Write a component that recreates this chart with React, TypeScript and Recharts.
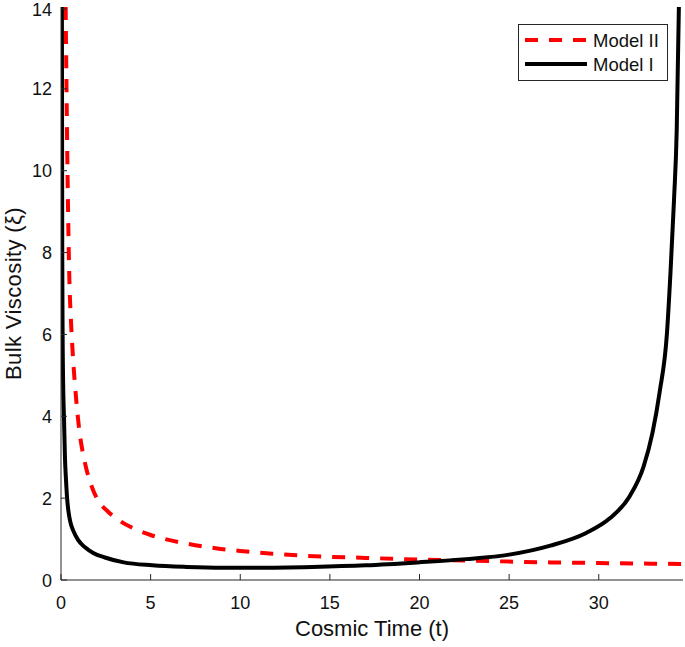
import React from 'react';
import { LineChart, Line, XAxis, YAxis } from 'recharts';

const modelIITime = [0.26, 0.3, 0.35, 0.41, 0.47, 0.56, 0.69, 0.85, 1.02, 1.2, 1.43, 1.7, 2.06, 2.6, 3.2, 4, 5, 6, 7, 8.9, 10, 11.8, 14.8, 17, 19.1, 23, 27.3, 31, 34.7];
const modelIIVisc = [14, 12.3, 10.4, 8.6, 7.3, 6.3, 5.3, 4.4, 3.66, 3.15, 2.69, 2.3, 1.95, 1.68, 1.47, 1.27, 1.1, 0.98, 0.89, 0.76, 0.71, 0.64, 0.57, 0.54, 0.51, 0.47, 0.43, 0.41, 0.39];

const modelITime = [0.05, 0.06, 0.07, 0.09, 0.12, 0.17, 0.22, 0.28, 0.34, 0.41, 0.52, 0.69, 0.95, 1.34, 1.8, 2.45, 3.5, 5.1, 7, 9, 11, 14, 17, 19.9, 22.6, 25, 27.3, 29.3, 30.6, 31.7, 32.5, 33.0, 33.4, 33.8, 34.0, 34.2, 34.35, 34.47];
const modelIVisc = [14, 11, 8, 6, 4.8, 3.9, 3.0, 2.44, 2.0, 1.7, 1.42, 1.2, 0.98, 0.8, 0.66, 0.55, 0.43, 0.36, 0.32, 0.3, 0.3, 0.32, 0.36, 0.43, 0.51, 0.62, 0.84, 1.15, 1.5, 2.03, 2.77, 3.6, 4.6, 6.0, 7.5, 9.3, 11, 14];

const xTicks = [0, 5, 10, 15, 20, 25, 30];
const yTicks = [0, 2, 4, 6, 8, 10, 12, 14];
const seriesNames = ['Model II', 'Model I'];
const xLabel = 'Cosmic Time (t)';
const yLabel = 'Bulk Viscosity (\u03BE)';

const modelIIData = modelIITime.map((t, i) => ({ t, v: modelIIVisc[i] }));
const modelIData = modelITime.map((t, i) => ({ t, v: modelIVisc[i] }));

const FONT = '"Liberation Sans", Arial, Helvetica, sans-serif';
const AXIS = '#262626';

const BottomTick = (props: any) => {
  const { x, y, payload } = props;
  return (
    <g>
      <line x1={x} x2={x} y1={y} y2={y - 6} stroke={AXIS} strokeWidth={1} />
      <text x={x} y={y + 29} textAnchor="middle" fontSize={18} fontFamily={FONT} fill="#111">
        {payload.value}
      </text>
    </g>
  );
};

const TopTick = (props: any) => {
  const { x, y } = props;
  return <line x1={x} x2={x} y1={y} y2={y + 6} stroke={AXIS} strokeWidth={1} />;
};

const LeftTick = (props: any) => {
  const { x, y, payload } = props;
  return (
    <g>
      <line x1={x} x2={x + 6} y1={y} y2={y} stroke={AXIS} strokeWidth={1} />
      <text x={x - 9} y={y + 6.5} textAnchor="end" fontSize={18} fontFamily={FONT} fill="#111">
        {payload.value}
      </text>
    </g>
  );
};

const RightTick = (props: any) => {
  const { x, y } = props;
  return <line x1={x} x2={x - 6} y1={y} y2={y} stroke={AXIS} strokeWidth={1} />;
};

const XLabel = (props: any) => {
  const vb = props.viewBox || {};
  return (
    <text x={vb.x + vb.width / 2} y={vb.y + 56} textAnchor="middle" fontSize={22} fontFamily={FONT} fill="#111">
      {xLabel}
    </text>
  );
};

const YLabel = (props: any) => {
  const vb = props.viewBox || {};
  const cx = 21;
  const cy = vb.y + vb.height / 2;
  return (
    <text x={cx} y={cy} textAnchor="middle" fontSize={22} fontFamily={FONT} fill="#111" letterSpacing={0.4} transform={`rotate(-90 ${cx} ${cy})`}>
      {yLabel}
    </text>
  );
};

const LegendBox = () => (
  <svg width={151} height={58} style={{ display: 'block' }}>
    <rect x={0.5} y={0.5} width={149} height={56} fill="#fff" stroke={AXIS} strokeWidth={1} />
    <line x1={7} x2={69} y1={16} y2={16} stroke="#ff0000" strokeWidth={4} strokeDasharray="13 11" />
    <text x={75} y={22.5} fontSize={18.5} fontFamily={FONT} fill="#111">{seriesNames[0]}</text>
    <line x1={7} x2={69} y1={40} y2={40} stroke="#000" strokeWidth={4} />
    <text x={75} y={46.5} fontSize={18.5} fontFamily={FONT} fill="#111">{seriesNames[1]}</text>
  </svg>
);

export default function App() {
  return (
    <div style={{ position: 'absolute', left: 0, top: 0, width: 685, height: 647, background: '#fff' }}>
      <LineChart width={685} height={647} margin={{ top: 7, right: 2, bottom: 0, left: 0 }}>
        <XAxis
          dataKey="t"
          type="number"
          domain={[0, 34.7]}
          ticks={xTicks}
          allowDataOverflow
          height={67}
          tickSize={0}
          tickMargin={0}
          tickLine={false}
          stroke={AXIS}
          tick={<BottomTick />}
          label={<XLabel />}
        />
        <XAxis
          xAxisId="top"
          orientation="top"
          dataKey="t"
          type="number"
          domain={[0, 34.7]}
          ticks={xTicks}
          allowDataOverflow
          height={0}
          tickSize={0}
          tickMargin={0}
          tickLine={false}
          stroke={AXIS}
          tick={<TopTick />}
        />
        <YAxis
          type="number"
          domain={[0, 14]}
          ticks={yTicks}
          allowDataOverflow
          width={61}
          tickSize={0}
          tickMargin={0}
          tickLine={false}
          stroke={AXIS}
          tick={<LeftTick />}
          label={<YLabel />}
        />
        <YAxis
          yAxisId="right"
          orientation="right"
          type="number"
          domain={[0, 14]}
          ticks={yTicks}
          allowDataOverflow
          width={0}
          tickSize={0}
          tickMargin={0}
          tickLine={false}
          stroke={AXIS}
          tick={<RightTick />}
        />
        <Line
          data={modelIIData}
          dataKey="v"
          name={seriesNames[0]}
          type="monotone"
          stroke="#ff0000"
          strokeWidth={4}
          strokeDasharray="13 11"
          dot={false}
          isAnimationActive={false}
        />
        <Line
          data={modelIData}
          dataKey="v"
          name={seriesNames[1]}
          type="monotone"
          stroke="#000000"
          strokeWidth={4}
          dot={false}
          isAnimationActive={false}
        />
      </LineChart>
      <div style={{ position: 'absolute', left: 518, top: 24, width: 151, height: 58 }}>
        <LegendBox />
      </div>
    </div>
  );
}
